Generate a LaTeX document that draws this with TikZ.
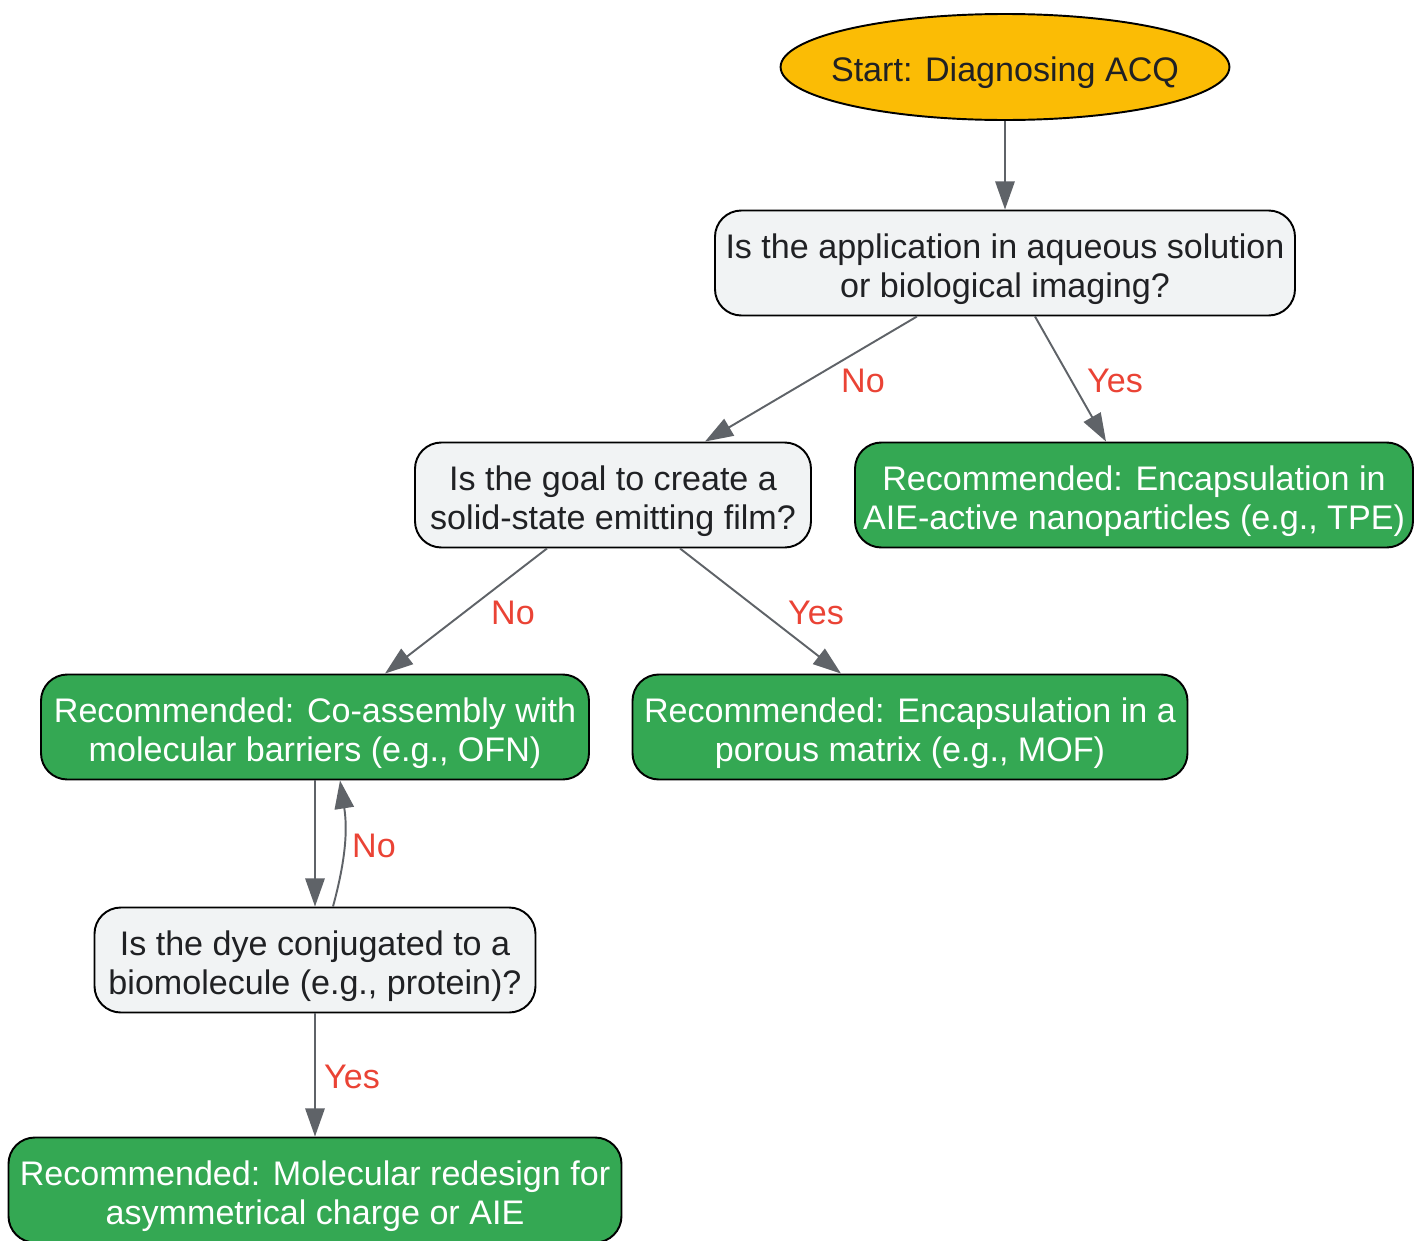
\documentclass[tikz,border=0pt]{standalone}
\usepackage{fontspec}
\setmainfont{Liberation Sans}
\usetikzlibrary{shapes.geometric,arrows.meta,calc}

\definecolor{startfill}{HTML}{FBBC05}
\definecolor{askfill}{HTML}{F1F3F4}
\definecolor{okfill}{HTML}{34A853}
\definecolor{inktext}{HTML}{202124}
\definecolor{edgegray}{HTML}{5F6368}
\definecolor{labelred}{HTML}{EA4335}

% extra height on the first line, so the text sits a bit lower in its box
\newcommand{\rowlift}{\rule{0pt}{21pt}}

\tikzset{
  every node/.style={font=\fontsize{19.4}{22}\selectfont},
  startnode/.style={ellipse, draw=black, line width=1.1pt, fill=startfill,
    text=inktext, minimum width=446*0.02cm, minimum height=106*0.02cm,
    inner xsep=-0.306cm, inner ysep=0pt},
  decision/.style={rectangle, rounded corners=15pt, draw=black, line width=1.1pt,
    fill=askfill, text=inktext, align=center, minimum height=105*0.02cm, inner sep=2pt},
  outcome/.style={decision, fill=okfill, text=white},
  flow/.style={draw=edgegray, line width=1.1pt, -{Triangle[length=16pt,width=11pt]}},
  answer/.style={text=labelred, inner sep=0pt}
}

\begin{document}
\begin{tikzpicture}[x=0.02cm, y=-0.02cm]
    \useasboundingbox (0,0) rectangle (1414,1241);
    % nodes
    \node [startnode] (start) at (1005,67) {\rowlift Start: Diagnosing ACQ};
    \node [decision, minimum width=580*0.02cm] (aqueous) at (1005,263)
      {\rowlift Is the application in aqueous solution\\or biological imaging?};
    \node [decision, minimum width=396*0.02cm] (film) at (613,495)
      {\rowlift Is the goal to create a\\solid-state emitting film?};
    \node [outcome, minimum width=558*0.02cm] (nanopart) at (1134,495)
      {\rowlift Recommended: Encapsulation in\\AIE-active nanoparticles (e.g., TPE)};
    \node [outcome, minimum width=548*0.02cm] (coassembly) at (315,727)
      {\rowlift Recommended: Co-assembly with\\molecular barriers (e.g., OFN)};
    \node [outcome, minimum width=555*0.02cm] (porous) at (910,727)
      {\rowlift Recommended: Encapsulation in a\\porous matrix (e.g., MOF)};
    \node [decision, minimum width=441*0.02cm] (conjugate) at (315,960)
      {\rowlift Is the dye conjugated to a\\biomolecule (e.g., protein)?};
    \node [outcome, minimum width=613*0.02cm] (redesign) at (315,1190)
      {\rowlift Recommended: Molecular redesign for\\asymmetrical charge or AIE};
    % connectors
    \draw [flow] (start) -- (aqueous);
    \draw [flow] ($(aqueous.south)+(-88,0)$) -- ($(film.north)+(92,0)$);
    \draw [flow] ($(aqueous.south)+(30,0)$) -- ($(nanopart.north)+(-28,0)$);
    \draw [flow] ($(film.south)+(-66,0)$) -- ($(coassembly.north)+(70,0)$);
    \draw [flow] ($(film.south)+(67,0)$) -- ($(porous.north)+(-69,0)$);
    \draw [flow] (coassembly) -- (conjugate);
    \draw [flow] ($(conjugate.north)+(18,0)$) to [bend right=12] ($(coassembly.south)+(25,0)$);
    \draw [flow] (conjugate) -- (redesign);
    % answers
    \node [answer] (no1) at (863,381) {No};
    \node [answer] (yes1) at (1115,381) {Yes};
    \node [answer] (no2) at (513,613) {No};
    \node [answer] (yes2) at (816,613) {Yes};
    \node [answer] (no3) at (374,846) {No};
    \node [answer] (yes3) at (352,1077) {Yes};
\end{tikzpicture}
\end{document}
